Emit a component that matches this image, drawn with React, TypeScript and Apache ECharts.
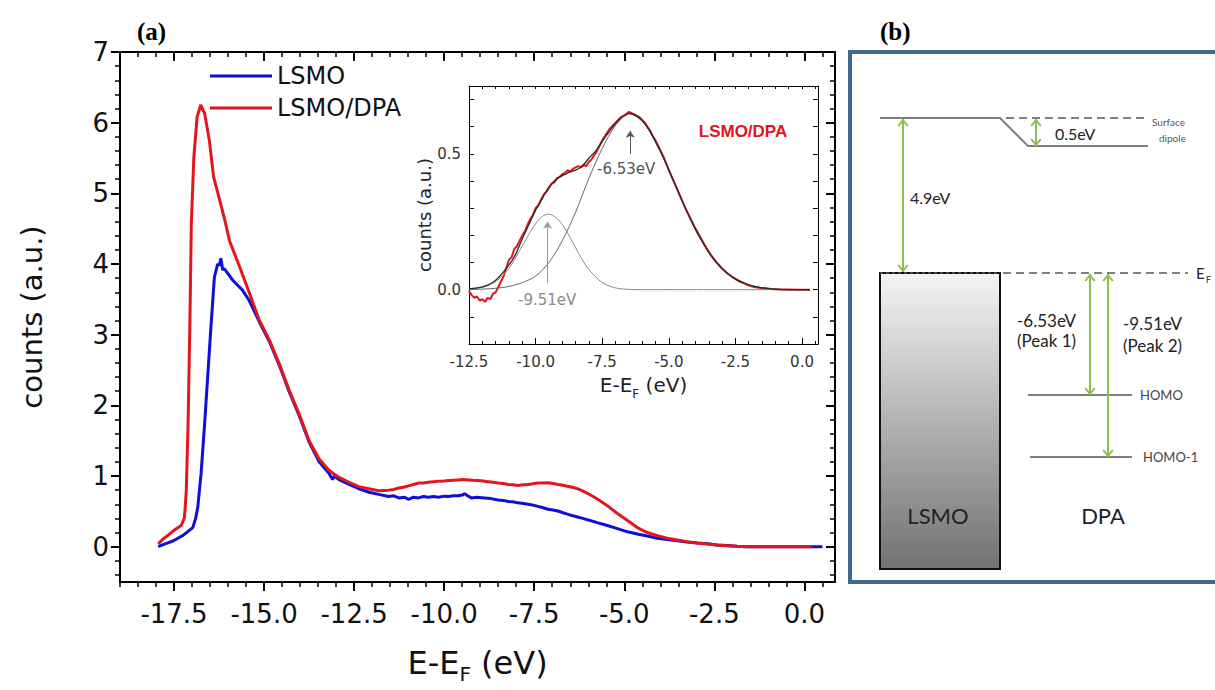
import React, { useEffect, useRef } from 'react';
import * as echarts from 'echarts';

// ---------- Tick values ----------
const mainXMajor = [-17.5, -15, -12.5, -10, -7.5, -5, -2.5, 0];
const mainYMajor = [0, 1, 2, 3, 4, 5, 6, 7];
const insetXMajor = [-12.5, -10, -7.5, -5, -2.5, 0];
const insetYLabels = [0, 0.5];

const steps = (a: number, b: number, s: number) => {
  const out: number[] = [];
  for (let v = a; v <= b + 1e-9; v += s) out.push(Math.round(v * 100) / 100);
  return out;
};
const mainXMinor = steps(-19, 0.5, 0.5);
const mainYMinor = steps(-0.4, 6.8, 0.2);
const insetXMinor = steps(-12.5, 0.5, 0.5);
const insetYTicks = steps(-0.2, 0.7, 0.1);

// ---------- Main panel (a) data: [E-EF (eV), counts] ----------
const lsmo: [number, number][] = [
  [-17.94, 0.0], [-17.75, 0.04], [-17.53, 0.08], [-17.25, 0.16], [-16.98, 0.27], [-16.9, 0.4],
  [-16.84, 0.56], [-16.75, 1.03], [-16.65, 1.74], [-16.56, 2.45], [-16.47, 3.15], [-16.38, 3.81],
  [-16.29, 4.0], [-16.24, 3.98], [-16.2, 4.08], [-16.15, 3.92], [-16.1, 3.93], [-15.87, 3.77],
  [-15.6, 3.63], [-15.41, 3.48], [-15.13, 3.18], [-14.85, 2.9], [-14.58, 2.57], [-14.3, 2.19],
  [-14.03, 1.86], [-13.75, 1.48], [-13.47, 1.2], [-13.2, 1.04], [-13.1, 0.95], [-13.05, 1.0],
  [-12.92, 0.95], [-12.64, 0.88], [-12.37, 0.82], [-12.09, 0.77], [-11.82, 0.74], [-11.54, 0.71],
  [-11.4, 0.72], [-11.26, 0.69], [-11.1, 0.7], [-10.99, 0.67], [-10.85, 0.7], [-10.71, 0.69],
  [-10.58, 0.71], [-10.44, 0.7], [-10.3, 0.71], [-10.16, 0.7], [-10.0, 0.715], [-9.88, 0.71],
  [-9.75, 0.72], [-9.61, 0.72], [-9.5, 0.73], [-9.43, 0.75], [-9.35, 0.72], [-9.25, 0.69],
  [-9.1, 0.7], [-8.88, 0.69], [-8.7, 0.68], [-8.5, 0.66], [-8.35, 0.655], [-8.23, 0.64],
  [-8.1, 0.635], [-7.95, 0.62], [-7.8, 0.61], [-7.67, 0.6], [-7.55, 0.59], [-7.4, 0.57],
  [-7.25, 0.55], [-7.12, 0.53], [-6.98, 0.52], [-6.84, 0.505], [-6.7, 0.48], [-6.58, 0.46],
  [-6.45, 0.44], [-6.3, 0.42], [-6.15, 0.4], [-6.02, 0.38], [-5.75, 0.34], [-5.47, 0.3],
  [-5.19, 0.255], [-4.91, 0.21], [-4.64, 0.18], [-4.36, 0.15], [-4.08, 0.12], [-3.81, 0.1],
  [-3.53, 0.085], [-3.26, 0.066], [-2.98, 0.052], [-2.7, 0.04], [-2.43, 0.025], [-2.15, 0.015],
  [-1.87, 0.005], [-1.6, 0.0], [0.5, 0.0],
];

const lsmoDpa: [number, number][] = [
  [-17.94, 0.04], [-17.8, 0.11], [-17.62, 0.18], [-17.45, 0.25], [-17.3, 0.3], [-17.21, 0.41],
  [-17.16, 0.79], [-17.11, 1.74], [-17.06, 3.16], [-17.02, 4.57], [-16.95, 5.51], [-16.86, 6.08],
  [-16.76, 6.25], [-16.65, 6.13], [-16.52, 5.75], [-16.4, 5.23], [-16.23, 4.9], [-16.09, 4.62],
  [-15.96, 4.33], [-15.68, 3.96], [-15.4, 3.58], [-15.13, 3.2], [-14.85, 2.92], [-14.58, 2.59],
  [-14.3, 2.21], [-14.03, 1.88], [-13.75, 1.5], [-13.47, 1.24], [-13.2, 1.08], [-12.92, 0.98],
  [-12.64, 0.91], [-12.37, 0.85], [-12.09, 0.82], [-11.82, 0.79], [-11.54, 0.8], [-11.4, 0.81],
  [-11.26, 0.83], [-11.1, 0.845], [-10.99, 0.86], [-10.85, 0.88], [-10.71, 0.9], [-10.58, 0.9],
  [-10.44, 0.91], [-10.3, 0.92], [-10.16, 0.925], [-10.0, 0.93], [-9.88, 0.935], [-9.75, 0.94],
  [-9.61, 0.945], [-9.47, 0.95], [-9.33, 0.945], [-9.2, 0.94], [-9.06, 0.935], [-8.92, 0.93],
  [-8.78, 0.92], [-8.64, 0.91], [-8.5, 0.9], [-8.36, 0.895], [-8.23, 0.88], [-8.1, 0.875],
  [-7.95, 0.865], [-7.8, 0.875], [-7.67, 0.88], [-7.54, 0.89], [-7.4, 0.9], [-7.26, 0.9],
  [-7.12, 0.905], [-6.98, 0.895], [-6.84, 0.88], [-6.7, 0.87], [-6.58, 0.855], [-6.44, 0.84],
  [-6.3, 0.82], [-6.16, 0.79], [-6.02, 0.755], [-5.75, 0.675], [-5.47, 0.58], [-5.19, 0.47],
  [-4.91, 0.37], [-4.64, 0.27], [-4.36, 0.2], [-4.08, 0.156], [-3.81, 0.12], [-3.53, 0.095],
  [-3.26, 0.07], [-2.98, 0.052], [-2.7, 0.038], [-2.43, 0.024], [-2.15, 0.014], [-1.87, 0.005],
  [-1.6, 0.0], [0.2, 0.0],
];

// ---------- Inset data ----------
const insetData: [number, number][] = [
  [-12.5, -0.005], [-12.4, -0.02], [-12.3, -0.03], [-12.2, -0.025], [-12.1, -0.04], [-12.0, -0.035],
  [-11.9, -0.045], [-11.8, -0.03], [-11.7, -0.035], [-11.6, -0.015], [-11.5, -0.01], [-11.4, 0.01],
  [-11.3, 0.03], [-11.2, 0.05], [-11.1, 0.08], [-11.0, 0.11], [-10.9, 0.12], [-10.8, 0.15],
  [-10.7, 0.16], [-10.6, 0.18], [-10.5, 0.2], [-10.4, 0.215], [-10.3, 0.24], [-10.2, 0.26],
  [-10.1, 0.275], [-10.0, 0.3], [-9.9, 0.31], [-9.8, 0.33], [-9.7, 0.35], [-9.6, 0.36],
  [-9.5, 0.375], [-9.4, 0.39], [-9.3, 0.395], [-9.2, 0.41], [-9.1, 0.415], [-9.0, 0.425],
  [-8.9, 0.43], [-8.8, 0.44], [-8.7, 0.435], [-8.6, 0.445], [-8.5, 0.45], [-8.4, 0.455],
  [-8.3, 0.45], [-8.2, 0.46], [-8.1, 0.455], [-8.0, 0.47], [-7.9, 0.48], [-7.8, 0.495],
  [-7.7, 0.51], [-7.6, 0.53], [-7.5, 0.55], [-7.4, 0.565], [-7.3, 0.58], [-7.2, 0.595],
  [-7.1, 0.605], [-7.0, 0.615], [-6.9, 0.625], [-6.8, 0.635], [-6.7, 0.64], [-6.6, 0.645],
  [-6.5, 0.655], [-6.4, 0.65], [-6.3, 0.645], [-6.2, 0.64], [-6.1, 0.635], [-6.0, 0.625],
  [-5.9, 0.615], [-5.8, 0.6], [-5.7, 0.585], [-5.6, 0.565], [-5.5, 0.55], [-5.4, 0.53],
  [-5.3, 0.51], [-5.2, 0.49], [-5.1, 0.465], [-5.0, 0.44], [-4.8, 0.395], [-4.6, 0.35],
  [-4.4, 0.305], [-4.2, 0.265], [-4.0, 0.225], [-3.8, 0.19], [-3.6, 0.155], [-3.4, 0.125],
  [-3.2, 0.1], [-3.0, 0.078], [-2.8, 0.06], [-2.6, 0.045], [-2.4, 0.033], [-2.2, 0.024],
  [-2.0, 0.016], [-1.8, 0.01], [-1.6, 0.007], [-1.4, 0.005], [-1.2, 0.003], [-1.0, 0.002],
  [-0.6, 0.001], [-0.2, 0.0], [0.3, 0.0],
];

const insetFit: [number, number][] = [
  [-12.5, 0.003], [-12.0, 0.01], [-11.5, 0.035], [-11.0, 0.091], [-10.75, 0.13], [-10.5, 0.187],
  [-10.25, 0.24], [-10.0, 0.293], [-9.75, 0.335], [-9.5, 0.378], [-9.25, 0.405], [-9.0, 0.42],
  [-8.75, 0.432], [-8.5, 0.44], [-8.25, 0.455], [-8.0, 0.484], [-7.75, 0.51], [-7.5, 0.546],
  [-7.25, 0.58], [-7.0, 0.612], [-6.75, 0.636], [-6.5, 0.649], [-6.25, 0.642], [-6.0, 0.622],
  [-5.75, 0.59], [-5.5, 0.545], [-5.25, 0.496], [-5.0, 0.442], [-4.75, 0.385], [-4.5, 0.328],
  [-4.25, 0.272], [-4.0, 0.222], [-3.75, 0.178], [-3.5, 0.137], [-3.25, 0.104], [-3.0, 0.077],
  [-2.75, 0.057], [-2.5, 0.04], [-2.25, 0.028], [-2.0, 0.018], [-1.5, 0.007], [-1.0, 0.002],
  [-0.5, 0.0], [0.3, 0.0],
];

const peak1: [number, number][] = [
  [-12.5, 0.0], [-12.0, 0.002], [-11.5, 0.005], [-11.0, 0.012], [-10.5, 0.026], [-10.0, 0.05],
  [-9.5, 0.1], [-9.0, 0.18], [-8.5, 0.285], [-8.0, 0.41], [-7.5, 0.52], [-7.0, 0.605],
  [-6.5, 0.648], [-6.0, 0.622], [-5.5, 0.545], [-5.0, 0.442], [-4.5, 0.328], [-4.0, 0.222],
  [-3.5, 0.137], [-3.0, 0.077], [-2.5, 0.04], [-2.0, 0.018], [-1.5, 0.007], [-1.0, 0.002],
  [-0.5, 0.0], [0.3, 0.0],
];

const peak2: [number, number][] = [
  [-12.5, 0.002], [-12.0, 0.008], [-11.5, 0.03], [-11.0, 0.079], [-10.5, 0.161], [-10.25, 0.204],
  [-10.0, 0.243], [-9.75, 0.27], [-9.5, 0.278], [-9.25, 0.267], [-9.0, 0.24], [-8.75, 0.2],
  [-8.5, 0.155], [-8.25, 0.111], [-8.0, 0.074], [-7.5, 0.026], [-7.0, 0.0065], [-6.5, 0.001],
  [-6.0, 0.0], [0.3, 0.0],
];

const peakPositions = { p1: -6.45, p2: -9.55 };

// ---------- styles ----------
const FONT = 'DejaVu Sans';
const BLUE = '#0d0ddc';
const RED = '#e3161c';
const GREEN = '#8dbd4f';
const GRAY = '#7f7f7f';
const DIAG_FONT = 'Lato';

const noAxis = { show: false };

function tickAxis(
  kind: 'x' | 'y',
  grid: number,
  position: string,
  min: number,
  max: number,
  ticks: number[],
  inside: boolean,
  length: number,
  width: number,
  showLine: boolean,
  extra: any = {}
) {
  return {
    type: 'value',
    gridIndex: grid,
    position,
    min,
    max,
    splitLine: noAxis,
    axisLine: { show: showLine, onZero: false, lineStyle: { color: '#000', width: grid === 0 ? 2 : 1 } },
    axisTick: { show: true, customValues: ticks, inside, length, lineStyle: { color: '#000', width } },
    axisLabel: { show: false },
    ...extra,
  };
}

function arrowV(x: number, y1: number, y2: number, color: string, w = 2, head = 6) {
  return [
    { type: 'line', shape: { x1: x, y1, x2: x, y2 }, style: { stroke: color, lineWidth: w } },
    {
      type: 'polyline',
      shape: { points: [[x - head * 0.8, y1 + head + 1], [x, y1 + 1], [x + head * 0.8, y1 + head + 1]] },
      style: { stroke: color, lineWidth: w, fill: null },
    },
    {
      type: 'polyline',
      shape: { points: [[x - head * 0.8, y2 - head - 1], [x, y2 - 1], [x + head * 0.8, y2 - head - 1]] },
      style: { stroke: color, lineWidth: w, fill: null },
    },
  ];
}

function txt(text: string, x: number, y: number, font: string, fill: string, align = 'left', vAlign = 'middle') {
  return {
    type: 'text',
    x,
    y,
    style: { text, font, fill, align, verticalAlign: vAlign, textAlign: align, textVerticalAlign: vAlign },
  };
}

export default function App() {
  const ref = useRef<HTMLDivElement>(null);

  useEffect(() => {
    if (!ref.current) return;
    const chart = echarts.init(ref.current, undefined, { renderer: 'svg' });

    const diagram: any[] = [
      // frame
      { type: 'rect', shape: { x: 850, y: 52, width: 420, height: 530 }, style: { fill: '#fff', stroke: '#42688f', lineWidth: 4 } },
      // vacuum level
      { type: 'polyline', shape: { points: [[880, 118], [1000, 118], [1028, 146], [1148, 146]] }, style: { stroke: GRAY, lineWidth: 2, fill: null } },
      { type: 'line', shape: { x1: 1006, y1: 118, x2: 1148, y2: 118 }, style: { stroke: GRAY, lineWidth: 2, lineDash: [8, 5] } },
      txt('Surface', 1152, 122, `10px "${DIAG_FONT}"`, '#555'),
      txt('dipole', 1159, 138, `10px "${DIAG_FONT}"`, '#555'),
      ...arrowV(1036, 119, 146, GREEN),
      txt('0.5eV', 1055, 133, `16px "${DIAG_FONT}"`, '#222'),
      ...arrowV(903, 119, 272, GREEN),
      txt('4.9eV', 910, 197, `16px "${DIAG_FONT}"`, '#222'),
      // LSMO box
      {
        type: 'rect',
        shape: { x: 880, y: 273, width: 120, height: 296 },
        style: {
          fill: new echarts.graphic.LinearGradient(0, 0, 0, 1, [
            { offset: 0, color: '#f4f4f4' },
            { offset: 1, color: '#727272' },
          ]),
          stroke: '#111',
          lineWidth: 2,
        },
      },
      { type: 'line', shape: { x1: 880, y1: 273, x2: 1000, y2: 273 }, style: { stroke: '#777', lineWidth: 1, lineDash: [3, 3] } },
      // Fermi level
      { type: 'line', shape: { x1: 1003, y1: 273, x2: 1188, y2: 273 }, style: { stroke: GRAY, lineWidth: 2, lineDash: [8, 5] } },
      txt('E', 1196, 273, `15px "${DIAG_FONT}"`, '#222'),
      txt('F', 1206, 279, `9px "${DIAG_FONT}"`, '#222'),
      // HOMO levels
      { type: 'line', shape: { x1: 1028, y1: 395, x2: 1132, y2: 395 }, style: { stroke: GRAY, lineWidth: 2 } },
      txt('HOMO', 1140, 395, `13px "${DIAG_FONT}"`, '#444'),
      { type: 'line', shape: { x1: 1030, y1: 457, x2: 1132, y2: 457 }, style: { stroke: GRAY, lineWidth: 2 } },
      txt('HOMO-1', 1143, 457, `13px "${DIAG_FONT}"`, '#444'),
      ...arrowV(1090, 274, 395, GREEN),
      ...arrowV(1108, 274, 457, GREEN),
      txt('-6.53eV', 1017, 320, `17px "${DIAG_FONT}"`, '#222'),
      txt('(Peak 1)', 1017, 340, `17px "${DIAG_FONT}"`, '#222'),
      txt('-9.51eV', 1123, 323, `17px "${DIAG_FONT}"`, '#222'),
      txt('(Peak 2)', 1123, 345, `17px "${DIAG_FONT}"`, '#222'),
      txt('LSMO', 938, 515, `22px "${DIAG_FONT}"`, '#222', 'center'),
      txt('DPA', 1103, 515, `22px "${DIAG_FONT}"`, '#222', 'center'),
    ];

    const option: any = {
      animation: false,
      backgroundColor: '#fff',
      grid: [
        { left: 120, top: 52, width: 715, height: 530, containLabel: false, outerBoundsMode: 'none' },
        { left: 469, top: 86, width: 349, height: 258, containLabel: false, outerBoundsMode: 'none', show: true, backgroundColor: '#fff', borderWidth: 0 },
      ],
      legend: {
        data: ['LSMO', 'LSMO/DPA'],
        orient: 'vertical',
        left: 210,
        top: 64,
        padding: 0,
        itemWidth: 62,
        itemHeight: 3,
        icon: 'rect',
        itemGap: 8,
        selectedMode: false,
        textStyle: { fontSize: 24, fontFamily: FONT, color: '#111' },
      },
      xAxis: [
        tickAxis('x', 0, 'bottom', -19, 0.85, mainXMajor, false, 9, 2, true, {
          axisLabel: {
            show: true,
            customValues: mainXMajor,
            formatter: (v: number) => v.toFixed(1),
            margin: 19,
            fontSize: 26,
            fontFamily: FONT,
            color: '#111',
          },
          name: '{a|E-E}{s|F}{a| (eV)}',
          nameLocation: 'middle',
          nameGap: 63,
          nameTextStyle: {
            rich: {
              a: { fontSize: 32, fontFamily: FONT, color: '#111', lineHeight: 36 },
              s: { fontSize: 20, fontFamily: FONT, color: '#111', lineHeight: 20, padding: [22, 0, 0, 0] },
            },
          },
        }),
        tickAxis('x', 0, 'bottom', -19, 0.85, mainXMinor, false, 5, 1.5, false),
        tickAxis('x', 0, 'top', -19, 0.85, mainXMajor, true, 9, 2, true),
        tickAxis('x', 0, 'top', -19, 0.85, mainXMinor, true, 5, 1.5, false),
        tickAxis('x', 1, 'bottom', -12.5, 0.6, insetXMajor, true, 6, 1, true, {
          axisLabel: {
            show: true,
            customValues: insetXMajor,
            formatter: (v: number) => v.toFixed(1),
            margin: 10,
            fontSize: 15,
            fontFamily: FONT,
            color: '#333',
          },
          name: '{a|E-E}{s|F}{a| (eV)}',
          nameLocation: 'middle',
          nameGap: 22,
          nameTextStyle: {
            rich: {
              a: { fontSize: 20, fontFamily: FONT, color: '#222', lineHeight: 22 },
              s: { fontSize: 12, fontFamily: FONT, color: '#222', lineHeight: 12, padding: [18, 0, 0, 0] },
            },
          },
        }),
        tickAxis('x', 1, 'bottom', -12.5, 0.6, insetXMinor, true, 3, 1, false),
        tickAxis('x', 1, 'top', -12.5, 0.6, insetXMinor, true, 3, 1, true),
      ],
      yAxis: [
        tickAxis('y', 0, 'left', -0.5, 7, mainYMajor, false, 9, 2, true, {
          axisLabel: {
            show: true,
            customValues: mainYMajor,
            formatter: (v: number) => String(v),
            margin: 11,
            fontSize: 26,
            fontFamily: FONT,
            color: '#111',
          },
          name: 'counts (a.u.)',
          nameLocation: 'middle',
          nameGap: 74,
          nameTextStyle: { fontSize: 29, fontFamily: FONT, color: '#111' },
        }),
        tickAxis('y', 0, 'left', -0.5, 7, mainYMinor, false, 5, 1.5, false),
        tickAxis('y', 0, 'right', -0.5, 7, mainYMajor, true, 9, 2, true),
        tickAxis('y', 0, 'right', -0.5, 7, mainYMinor, true, 5, 1.5, false),
        tickAxis('y', 1, 'left', -0.2, 0.75, insetYTicks, true, 5, 1, true, {
          axisLabel: {
            show: true,
            customValues: insetYLabels,
            formatter: (v: number) => v.toFixed(1),
            margin: 8,
            fontSize: 15,
            fontFamily: FONT,
            color: '#333',
          },
          name: 'counts (a.u.)',
          nameLocation: 'middle',
          nameGap: 33,
          nameTextStyle: { fontSize: 18, fontFamily: FONT, color: '#222' },
        }),
        tickAxis('y', 1, 'right', -0.2, 0.75, insetYTicks, true, 5, 1, true),
      ],
      series: [
        {
          name: 'LSMO',
          type: 'line',
          xAxisIndex: 0,
          yAxisIndex: 0,
          data: lsmo,
          showSymbol: false,
          symbol: 'none',
          color: BLUE,
          lineStyle: { color: BLUE, width: 3 },
          emphasis: { disabled: true },
        },
        {
          name: 'LSMO/DPA',
          type: 'line',
          xAxisIndex: 0,
          yAxisIndex: 0,
          data: lsmoDpa,
          showSymbol: false,
          symbol: 'none',
          color: RED,
          lineStyle: { color: RED, width: 3 },
          emphasis: { disabled: true },
        },
        {
          name: 'inset-data',
          type: 'line',
          xAxisIndex: 4,
          yAxisIndex: 4,
          data: insetData,
          showSymbol: false,
          symbol: 'none',
          lineStyle: { color: RED, width: 2 },
          emphasis: { disabled: true },
        },
        {
          name: 'peak1',
          type: 'line',
          xAxisIndex: 4,
          yAxisIndex: 4,
          data: peak1,
          showSymbol: false,
          symbol: 'none',
          smooth: 0.3,
          lineStyle: { color: '#666', width: 1 },
          emphasis: { disabled: true },
        },
        {
          name: 'peak2',
          type: 'line',
          xAxisIndex: 4,
          yAxisIndex: 4,
          data: peak2,
          showSymbol: false,
          symbol: 'none',
          smooth: 0.3,
          lineStyle: { color: '#888', width: 1 },
          emphasis: { disabled: true },
        },
        {
          name: 'fit',
          type: 'line',
          xAxisIndex: 4,
          yAxisIndex: 4,
          data: insetFit,
          showSymbol: false,
          symbol: 'none',
          smooth: 0.3,
          lineStyle: { color: '#2a2a2a', width: 1.3 },
          emphasis: { disabled: true },
          markLine: {
            silent: true,
            symbol: ['none', 'arrow'],
            symbolSize: 7,
            label: { show: false },
            lineStyle: { type: 'solid', width: 1, color: '#555' },
            data: [
              [
                { coord: [peakPositions.p1, 0.5], lineStyle: { color: '#555', width: 1, type: 'solid' } },
                { coord: [peakPositions.p1, 0.585] },
              ],
              [
                { coord: [peakPositions.p2, 0.025], lineStyle: { color: '#999', width: 1, type: 'solid' } },
                { coord: [peakPositions.p2, 0.25] },
              ],
            ],
          },
        },
      ],
      graphic: [
        txt('(a)', 137, 31, `bold 25px "Liberation Serif"`, '#000'),
        txt('(b)', 880, 31, `bold 25px "Liberation Serif"`, '#000'),
        txt('LSMO/DPA', 743, 131, `bold 17px "Liberation Sans"`, '#e3131b', 'center'),
        txt('-6.53eV', 597, 169, `15px "${FONT}"`, '#555'),
        txt('-9.51eV', 518, 300, `15px "${FONT}"`, '#8a8a8a'),
        ...diagram,
      ],
    };

    chart.setOption(option);
    return () => chart.dispose();
  }, []);

  return <div ref={ref} style={{ position: 'fixed', left: 0, top: 0, width: 1215, height: 690 }} />;
}
